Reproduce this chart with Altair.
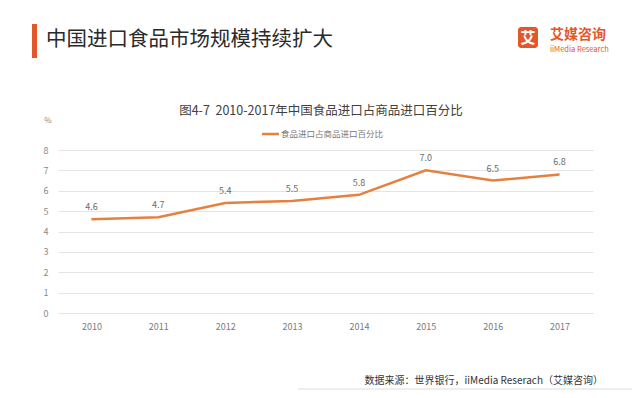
import altair as alt
import pandas as pd

years = ["2010", "2011", "2012", "2013", "2014", "2015", "2016", "2017"]
values = [4.6, 4.7, 5.4, 5.5, 5.8, 7.0, 6.5, 6.8]
labels = ["4.6", "4.7", "5.4", "5.5", "5.8", "7.0", "6.5", "6.8"]
y_ticks = [0, 1, 2, 3, 4, 5, 6, 7, 8]

main_title = "中国进口食品市场规模持续扩大"
chart_title = "图4-7\u00a0\u00a02010-2017年中国食品进口占商品进口百分比"
series_name = "食品进口占商品进口百分比"
unit = "%"
source = "数据来源：世界银行，iiMedia Reserach（艾媒咨询）"
logo_cn = "艾媒咨询"
logo_en = "iiMedia Research"

FONT = "Noto Sans CJK SC"
ORANGE = "#E5803F"
BRAND = "#E2582B"

df = pd.DataFrame({"year": years, "value": values, "label": labels})

x_enc = alt.X("year:O", title=None,
              scale=alt.Scale(type="point", padding=0.5),
              axis=alt.Axis(labelAngle=0, domain=False, ticks=False, labelPadding=9,
                            labelFontSize=9, labelColor="#7a7a7a", labelFont=FONT, grid=False))
y_enc = alt.Y("value:Q", title=None,
              scale=alt.Scale(domain=[0, 8], nice=False),
              axis=alt.Axis(values=y_ticks, domain=False, ticks=False, labelOverlap=False,
                            labelPadding=10, labelFontSize=9, labelColor="#8a8a8a",
                            labelFont=FONT, gridColor="#e4e4e4", gridWidth=1))

base = alt.Chart(df)
line = base.mark_line(color=ORANGE, strokeWidth=2.5).encode(x=x_enc, y=y_enc)
text = base.mark_text(dy=-12, fontSize=9, color="#6a6a6a", font=FONT).encode(
    x=x_enc, y=y_enc, text="label:N")

one = pd.DataFrame({"a": [0]})
ann = alt.Chart(one)

bar = ann.mark_rect(color=BRAND).encode(
    x=alt.value(-26), x2=alt.value(-21), y=alt.value(-126), y2=alt.value(-92))
title1 = ann.mark_text(text=main_title, align="left", baseline="middle", fontSize=20.5,
                       color="#2a2a2a", font=FONT).encode(x=alt.value(-12), y=alt.value(-110))
logo_box = ann.mark_rect(color=BRAND, cornerRadius=3).encode(
    x=alt.value(460), x2=alt.value(480), y=alt.value(-123), y2=alt.value(-102))
logo_char = ann.mark_text(text="艾", align="center", baseline="middle", fontSize=15,
                          fontWeight="bold", color="white", font=FONT).encode(
    x=alt.value(470), y=alt.value(-112.5))
logo_t1 = ann.mark_text(text=logo_cn, align="left", baseline="middle", fontSize=14,
                        fontWeight="bold", color=BRAND, font=FONT).encode(
    x=alt.value(492), y=alt.value(-115))
logo_t2 = ann.mark_text(text=logo_en, align="left", baseline="middle", fontSize=7.5,
                        color=BRAND, font=FONT).encode(x=alt.value(492), y=alt.value(-100))
title2 = ann.mark_text(text=chart_title, align="center", baseline="middle", fontSize=12.5,
                       color="#404040", font=FONT).encode(
    x=alt.value(263), y=alt.value(-39))
pct = ann.mark_text(text=unit, align="center", baseline="middle", fontSize=8,
                    color="#888888", font=FONT).encode(x=alt.value(-10), y=alt.value(-29))
leg_line = ann.mark_rule(color=ORANGE, strokeWidth=2.5).encode(
    x=alt.value(204), x2=alt.value(221), y=alt.value(-16))
leg_text = ann.mark_text(text=series_name, align="left", baseline="middle", fontSize=8.5,
                         color="#777777", font=FONT).encode(x=alt.value(223), y=alt.value(-16))
src = ann.mark_text(text=source, align="right", baseline="middle", fontSize=10,
                    color="#333333", font=FONT).encode(x=alt.value(545), y=alt.value(231))
src_line = ann.mark_rule(color="#dddddd", strokeWidth=1).encode(
    x=alt.value(240), x2=alt.value(574), y=alt.value(239))

chart = alt.layer(line, text, bar, title1, logo_box, logo_char, logo_t1, logo_t2,
                  title2, pct, leg_line, leg_text, src, src_line).properties(
    width=535, height=163,
    autosize=alt.AutoSizeParams(type="none"),
    padding={"left": 50, "top": 142, "right": 39, "bottom": 77},
    background="white",
).configure_view(stroke=None)

chart.save("out.html", embed_options={"renderer": "svg", "actions": False})
